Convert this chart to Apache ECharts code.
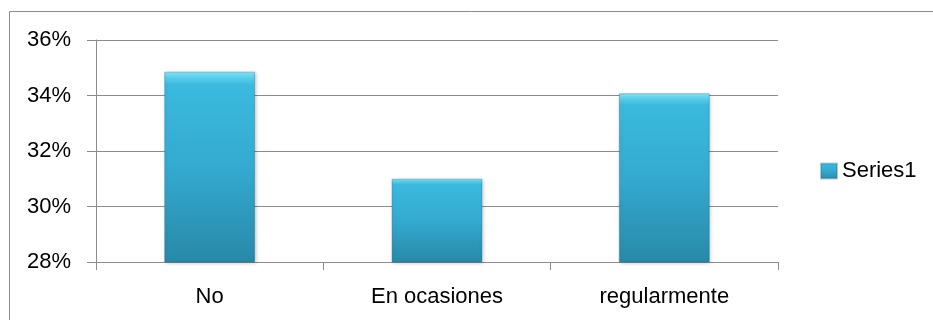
<!DOCTYPE html>
<html>
<head>
<meta charset="utf-8">
<script src="https://cdn.jsdelivr.net/npm/echarts@6/dist/echarts.min.js"></script>
<style>
  html, body { margin: 0; padding: 0; background: #ffffff; }
  #chart { width: 933px; height: 320px; }
</style>
</head>
<body>
<div id="chart"></div>
<script>
// Response categories and their shares (percent)
var categories = ['No', 'En ocasiones', 'regularmente'];
var seriesName = 'Series1';
var values = [34.86, 31.0, 34.08];
// Value axis range (percent)
var yMin = 28;
var yMax = 36;
var yStep = 2;

var FONT = 'Liberation Sans';
var GRAY = '#8c8c8c';

var chart = echarts.init(document.getElementById('chart'), null, { renderer: 'canvas' });

var barFill = new echarts.graphic.LinearGradient(0, 0, 0, 1, [
  { offset: 0, color: '#8ae8f8' },
  { offset: 0.03, color: '#5ad0ec' },
  { offset: 0.07, color: '#3bb9de' },
  { offset: 0.5, color: '#34aad0' },
  { offset: 1, color: '#2889a8' }
]);

chart.setOption({
  animation: false,
  textStyle: { fontFamily: FONT },
  grid: { left: 96, right: 155, top: 40, bottom: 58, containLabel: false },
  graphic: [
    // outer chart frame (runs past the right and bottom edges)
    { type: 'line', shape: { x1: 9.5, y1: 11.5, x2: 940, y2: 11.5 }, style: { stroke: GRAY, lineWidth: 1 } },
    { type: 'line', shape: { x1: 9.5, y1: 11.5, x2: 9.5, y2: 330 }, style: { stroke: GRAY, lineWidth: 1 } }
  ],
  legend: {
    data: [seriesName],
    left: 820,
    top: 160,
    padding: 0,
    orient: 'vertical',
    itemWidth: 16,
    itemHeight: 15,
    itemGap: 0,
    textStyle: { fontFamily: FONT, fontSize: 22, color: '#000' },
    icon: 'rect'
  },
  xAxis: {
    type: 'category',
    data: categories,
    boundaryGap: true,
    axisLine: { lineStyle: { color: GRAY, width: 1 } },
    axisTick: { show: true, length: 8, lineStyle: { color: GRAY } },
    axisLabel: { fontFamily: FONT, fontSize: 22, color: '#000', margin: 24 }
  },
  yAxis: {
    type: 'value',
    min: yMin,
    max: yMax,
    interval: yStep,
    axisLine: { show: true, lineStyle: { color: GRAY, width: 1 } },
    axisTick: { show: true, length: 9, lineStyle: { color: GRAY } },
    splitLine: { lineStyle: { color: GRAY, width: 1 } },
    axisLabel: { fontFamily: FONT, fontSize: 22, color: '#000', margin: 25, formatter: '{value}%' }
  },
  series: [{
    name: seriesName,
    type: 'bar',
    data: values,
    barWidth: '40%',
    itemStyle: {
      color: barFill,
      borderColor: 'rgba(30,110,140,0.35)',
      borderWidth: 1,
      shadowColor: 'rgba(0,0,0,0.22)',
      shadowBlur: 4,
      shadowOffsetX: 1,
      shadowOffsetY: 1
    }
  }]
});
</script>
</body>
</html>
